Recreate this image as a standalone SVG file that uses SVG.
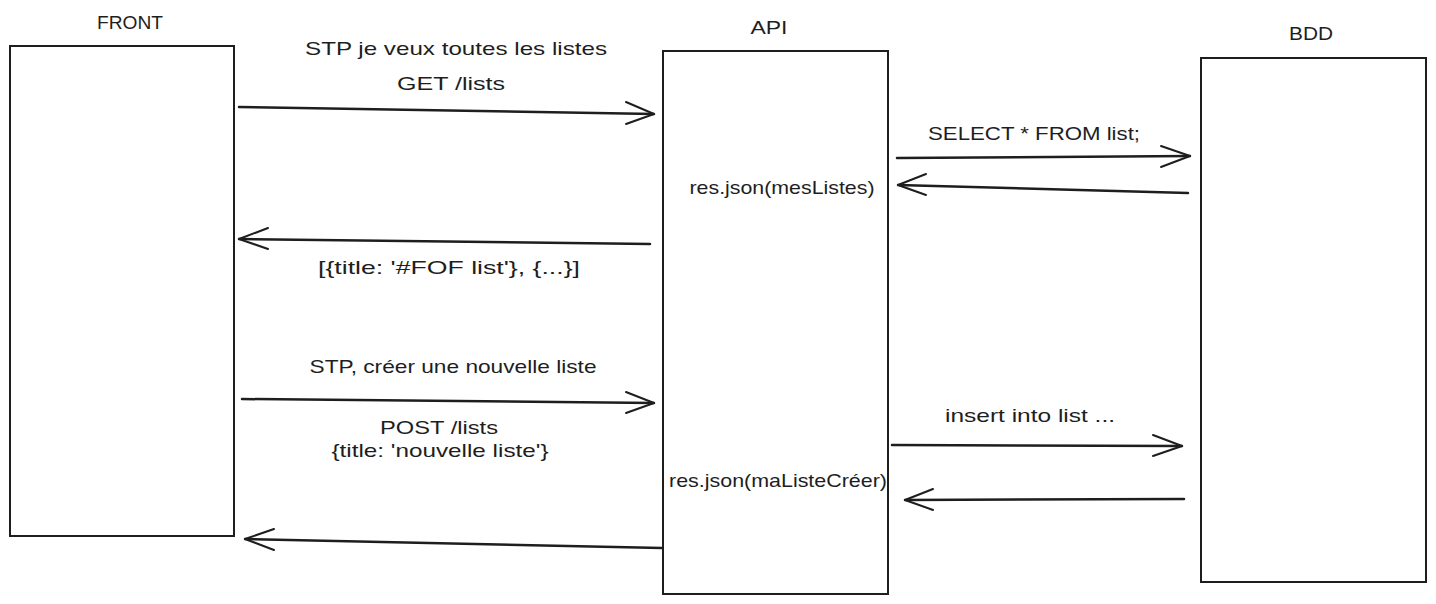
<svg xmlns="http://www.w3.org/2000/svg" width="1436" height="604" viewBox="0 0 1436 604">
<style>
.box{fill:#fff;stroke:#1e1e1e;stroke-width:2}
.lbl{font-family:"Liberation Sans",Arial,sans-serif;font-size:19px;fill:#1e1e1e;text-anchor:middle}
.con{stroke:#1e1e1e;stroke-width:2.5;fill:none;stroke-linecap:round}
.head{stroke:#1e1e1e;stroke-width:2;fill:none;stroke-linecap:round;stroke-linejoin:round}
</style>
<rect width="1436" height="604" fill="#fff"/>
<g id="front">
<rect class="box" x="10" y="46" width="224" height="490"/>
<text class="lbl" x="130" y="29" textLength="66" lengthAdjust="spacingAndGlyphs">FRONT</text>
</g>
<g id="api">
<rect class="box" x="663" y="51" width="225" height="543"/>
<text class="lbl" x="769" y="34" textLength="37" lengthAdjust="spacingAndGlyphs">API</text>
<text class="lbl" x="782" y="194" textLength="185" lengthAdjust="spacingAndGlyphs">res.json(mesListes)</text>
<text class="lbl" x="778" y="487" textLength="218" lengthAdjust="spacingAndGlyphs">res.json(maListeCréer)</text>
</g>
<g id="bdd">
<rect class="box" x="1201" y="58" width="225" height="524"/>
<text class="lbl" x="1311" y="40" textLength="44" lengthAdjust="spacingAndGlyphs">BDD</text>
</g>
<g id="connectors">
<path class="con" d="M239 107 L654 114"/>
<path class="head" d="M626 102 L654 114 L626 124"/>
<text class="lbl" x="456" y="55" textLength="302" lengthAdjust="spacingAndGlyphs">STP je veux toutes les listes</text>
<text class="lbl" x="451" y="90" textLength="108" lengthAdjust="spacingAndGlyphs">GET /lists</text>

<path class="con" d="M650 244 L239 239"/>
<path class="head" d="M268 228 L239 239 L268 249"/>
<text class="lbl" x="449" y="274" textLength="262" lengthAdjust="spacingAndGlyphs">[{title: '#FOF list'}, {...}]</text>

<path class="con" d="M897 158 L1190 156"/>
<path class="head" d="M1161 146 L1190 156 L1161 167"/>
<text class="lbl" x="1034" y="140" textLength="212" lengthAdjust="spacingAndGlyphs">SELECT * FROM list;</text>

<path class="con" d="M1188 193 L898 185"/>
<path class="head" d="M926 174 L898 185 L926 195"/>

<path class="con" d="M242 399 L654 403"/>
<path class="head" d="M626 392 L654 403 L626 413"/>
<text class="lbl" x="453" y="373" textLength="287" lengthAdjust="spacingAndGlyphs">STP, créer une nouvelle liste</text>
<text class="lbl" x="439" y="434" textLength="118" lengthAdjust="spacingAndGlyphs">POST /lists</text>
<text class="lbl" x="440" y="457" textLength="217" lengthAdjust="spacingAndGlyphs">{title: 'nouvelle liste'}</text>

<path class="con" d="M892 445 L1182 446"/>
<path class="head" d="M1153 435 L1182 446 L1153 456"/>
<text class="lbl" x="1030" y="422" textLength="170" lengthAdjust="spacingAndGlyphs">insert into list ...</text>

<path class="con" d="M1184 499 L905 500"/>
<path class="head" d="M933 489 L905 500 L933 510"/>

<path class="con" d="M662 548 L245 539"/>
<path class="head" d="M274 529 L245 539 L274 550"/>
</g>
</svg>
